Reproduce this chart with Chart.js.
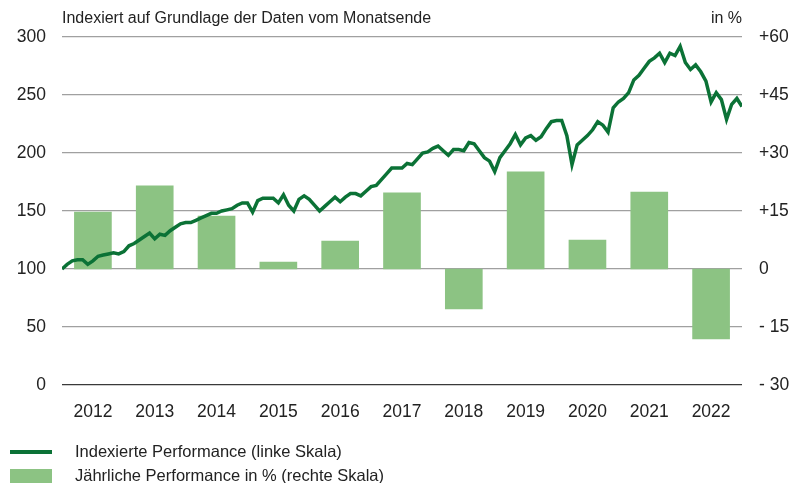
<!DOCTYPE html>
<html>
<head>
<meta charset="utf-8">
<script src="https://cdn.jsdelivr.net/npm/chart.js@4/dist/chart.umd.min.js"></script>
<style>
  body { margin: 0; background: #fff; }
  .wrap { position: relative; width: 809px; height: 483px; font-family: "Liberation Sans", Arial, sans-serif; color: #222; }
  .head { position: absolute; top: 9px; font-size: 16px; white-space: nowrap; }
  .legend { position: absolute; left: 0; font-size: 16.5px; }
  .legend .sw { position: absolute; left: 10px; width: 42px; }
  .legend .txt { position: absolute; left: 75px; white-space: nowrap; }
</style>
</head>
<body>
<div class="wrap">
  <canvas id="chart" width="809" height="483"></canvas>
  <div class="head" style="left:62px">Indexiert auf Grundlage der Daten vom Monatsende</div>
  <div class="head" style="right:67px">in %</div>
  <div class="legend" style="top:442px">
    <div class="sw" style="top:8px;height:4px;background:#0b7236"></div>
    <div class="txt" style="top:0">Indexierte Performance (linke Skala)</div>
  </div>
  <div class="legend" style="top:466px">
    <div class="sw" style="top:3px;height:14px;background:#8cc383"></div>
    <div class="txt" style="top:0">Jährliche Performance in % (rechte Skala)</div>
  </div>
</div>
<script>
var years = ["2012", "2013", "2014", "2015", "2016", "2017", "2018", "2019", "2020", "2021", "2022"];

// jährliche Performance in % (rechte Skala)
var yearlyPerf = [14.7, 21.5, 13.7, 1.8, 7.2, 19.7, -10.3, 25.1, 7.5, 19.9, -18.1];

// indexierte Performance, Monatsende, Dez 2011 = 100
var indexed = [
  100, 104, 107, 108, 108, 104, 107, 111, 112, 113, 114, 113, 115,
  120, 122, 125, 128, 131, 126, 130, 129, 133, 136, 139, 140,
  140, 142, 144, 146, 148, 148, 150, 151, 152, 155, 157, 157,
  149, 159, 161, 161, 161, 157, 164, 155, 150, 160, 163, 160,
  155, 150, 154, 158, 162, 158, 162, 165, 165, 163, 167, 171,
  172, 177, 182, 187, 187, 187, 191, 190, 195, 200, 201, 204,
  206, 202, 198, 203, 203, 202, 209, 208, 202, 196, 193, 184,
  196, 202, 208, 216, 207, 213, 215, 211, 214, 221, 227, 228,
  228, 215, 190, 207, 211, 215, 220, 227, 224, 218, 239, 244,
  247, 252, 263, 267, 273, 279, 282, 286, 278, 286, 284, 292,
  278, 272, 276, 270, 262, 244, 252, 246, 229, 242, 247, 240
];

var leftTicks = [0, 50, 100, 150, 200, 250, 300];
var rightTicks = [-30, -15, 0, 15, 30, 45, 60];

var lineColor = "#0b7236";
var barColor = "#8cc383";
var tickFont = { family: "Liberation Sans", size: 17.5 };

var linePoints = indexed.map(function(v, i) {
  return { x: i, y: v };
});

function fixWidth(w) {
  return function(scale) { scale.width = w; };
}

var ctx = document.getElementById("chart").getContext("2d");

var chart = new Chart(ctx, {
  type: "bar",
  data: {
    labels: years,
    datasets: [{
      type: "line",
      data: linePoints,
      xAxisID: "xl",
      yAxisID: "y",
      borderColor: lineColor,
      borderWidth: 3.5,
      pointRadius: 0,
      tension: 0,
      order: 0
    }, {
      type: "bar",
      data: yearlyPerf,
      xAxisID: "x",
      yAxisID: "yr",
      backgroundColor: barColor,
      barThickness: 37,
      grouped: false,
      order: 1
    }]
  },
  options: {
    responsive: false,
    animation: false,
    devicePixelRatio: 1,
    layout: { padding: { top: 37, bottom: 58, left: 0, right: 0 } },
    plugins: { legend: { display: false }, tooltip: { enabled: false } },
    scales: {
      x: {
        type: "category",
        offset: true,
        grid: { display: false },
        border: { display: false },
        ticks: { color: "#222", font: tickFont, padding: 9, maxRotation: 0 },
        afterFit: function(scale) { scale.height = 40; }
      },
      xl: {
        type: "linear",
        display: false,
        offset: false,
        min: 0,
        max: indexed.length - 1
      },
      y: {
        position: "left",
        min: 0,
        max: 300,
        afterBuildTicks: function(scale) {
          scale.ticks = leftTicks.map(function(v) { return { value: v }; });
        },
        grid: {
          drawTicks: false,
          lineWidth: 1.3,
          color: function(c) { return c.tick && c.tick.value === 0 ? "#3a3a3a" : "#a0a0a0"; }
        },
        border: { display: false },
        ticks: { color: "#222", font: tickFont, padding: 16 },
        afterFit: fixWidth(62)
      },
      yr: {
        position: "right",
        min: -30,
        max: 60,
        afterBuildTicks: function(scale) {
          scale.ticks = rightTicks.map(function(v) { return { value: v }; });
        },
        grid: { display: false, drawTicks: false },
        border: { display: false },
        ticks: {
          color: "#222",
          font: tickFont,
          padding: 17,
          callback: function(v) {
            if (v > 0) return "+" + v;
            if (v < 0) return "- " + Math.abs(v);
            return "0";
          }
        },
        afterFit: fixWidth(67)
      }
    }
  }
});
</script>
</body>
</html>
